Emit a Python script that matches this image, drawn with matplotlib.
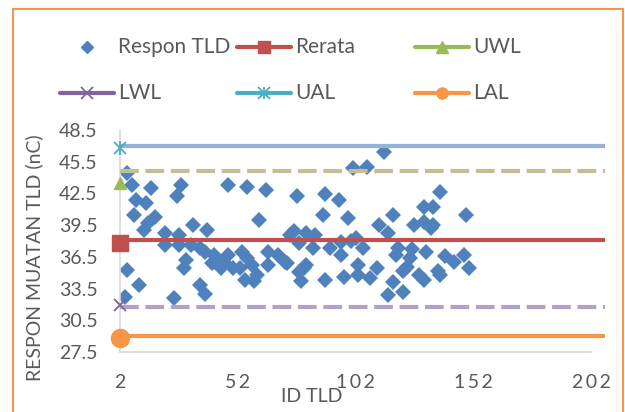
import matplotlib.pyplot as plt
from matplotlib.patches import Rectangle
from matplotlib.lines import Line2D

plt.rcParams['font.family'] = ['Lato', 'DejaVu Sans']

# TLD readings (ID, response in nC)
tld_id = [4, 5, 5, 7, 8, 9, 10, 12, 13, 14, 15, 17, 21, 21, 25, 26, 27, 27, 28, 29,
          30, 32, 33, 36, 36, 38, 38, 39, 41, 42, 43, 45, 46, 48, 48, 50, 53, 54, 55, 56,
          56, 58, 59, 60, 61, 64, 65, 65, 69, 72, 73, 74, 76, 77, 78, 78, 79, 80, 81, 81,
          84, 85, 88, 89, 89, 91, 95, 96, 96, 97, 99, 100, 101, 102, 103, 103, 105, 107, 108, 111,
          112, 114, 116, 116, 118, 118, 119, 120, 122, 122, 124, 125, 126, 127, 129, 131, 131, 131, 132, 134,
          135, 135, 137, 138, 138, 140, 144, 148, 149, 150]
respon = [32.7, 44.4, 35.3, 43.3, 40.5, 41.9, 33.8, 39.0, 41.6, 39.7, 43.0, 40.3, 38.8, 37.6, 32.6, 42.3, 38.6, 37.6, 43.3, 35.4,
          36.2, 37.6, 39.5, 37.3, 33.8, 33.0, 37.0, 39.0, 35.9, 36.7, 36.2, 35.4, 36.0, 43.3, 36.7, 35.4, 35.4, 37.0, 34.3, 43.1,
          36.4, 35.7, 34.2, 34.8, 40.0, 42.8, 37.0, 35.7, 36.7, 36.0, 35.9, 38.6, 38.9, 42.3, 35.1, 37.8, 34.2, 35.4, 38.8, 35.7,
          37.3, 38.6, 40.5, 42.4, 34.3, 37.3, 41.9, 37.9, 36.7, 34.6, 40.2, 38.0, 44.9, 38.3, 35.7, 34.8, 37.3, 45.0, 34.5, 35.4,
          39.5, 46.4, 32.9, 38.8, 40.5, 34.1, 36.7, 37.3, 33.2, 35.2, 35.5, 36.4, 37.2, 39.5, 34.8, 41.2, 39.8, 34.3, 37.0, 39.2,
          41.2, 39.5, 35.2, 42.6, 34.8, 36.6, 36.0, 36.7, 40.5, 35.4]

# control lines
line_x = [2, 208]
rerata = 38.1
uwl = 44.6
lwl = 31.75
ual = 47.0
lal = 29.0

# single marker points at ID 2
point_x = 2
rerata_pt = 37.8
uwl_pt = 43.5
lwl_pt = 31.9
ual_pt = 46.8
lal_pt = 28.8

x_ticks = [2, 52, 102, 152, 202]
x_tick_labels = ['2', '5\u20092', '1\u20090\u20092', '1\u20095\u20092', '2\u20090\u20092']
y_ticks = [27.5, 30.5, 33.5, 36.5, 39.5, 42.5, 45.5, 48.5]

txt = '#595959'
W, H = 625, 412

fig = plt.figure(figsize=(W / 100, H / 100), dpi=100)
ax = fig.add_axes([120 / W, 1 - 352 / H, 471 / W, 222 / H])

ax.plot(tld_id, respon, ls='none', marker='D', ms=8.5, mew=0, color='#4f81bd', zorder=2)

ax.plot(line_x, [ual, ual], color='#95b3d7', lw=3, solid_capstyle='butt', clip_on=False, zorder=3)
ax.plot(line_x, [uwl, uwl], color='#c4bd97', lw=3, ls=(0, (4.5, 1.6)), clip_on=False, zorder=3)
ax.plot(line_x, [rerata, rerata], color='#c0504d', lw=3, solid_capstyle='butt', clip_on=False, zorder=3)
ax.plot(line_x, [lwl, lwl], color='#b3a2c7', lw=3, ls=(0, (4.5, 1.6)), clip_on=False, zorder=3)
ax.plot(line_x, [lal, lal], color='#f79646', lw=3, solid_capstyle='butt', clip_on=False, zorder=3)

ax.plot(point_x, ual_pt, marker='x', ms=9, mew=1.3, color='#4bacc6', clip_on=False, zorder=4)
ax.plot(point_x, ual_pt, marker='|', ms=10, mew=1.3, color='#4bacc6', clip_on=False, zorder=4)
ax.plot(point_x, uwl_pt, marker='^', ms=9, color='#9bbb59', clip_on=False, zorder=4)
ax.plot(point_x, rerata_pt, marker='s', ms=12, color='#c0504d', clip_on=False, zorder=4)
ax.plot(point_x, lwl_pt, marker='x', ms=9, mew=1.3, color='#8064a2', clip_on=False, zorder=4)
ax.plot(point_x, lal_pt, marker='o', ms=13, color='#f79646', clip_on=False, zorder=4)

ax.set_xlim(2, 202)
ax.set_ylim(27.5, 48.5)
ax.set_xticks(x_ticks)
ax.set_xticklabels(x_tick_labels)
ax.set_yticks(y_ticks)
ax.set_yticklabels([f'{v:.1f}' for v in y_ticks])
ax.tick_params(length=0, labelsize=14, labelcolor=txt)
ax.tick_params(axis='y', pad=16)
ax.tick_params(axis='x', pad=16)
for s in ['top', 'right']:
    ax.spines[s].set_visible(False)
for s in ['left', 'bottom']:
    ax.spines[s].set_color('#d9d9d9')
    ax.spines[s].set_linewidth(1.2)

fig.text(34 / W, 1 - 258 / H, 'RESPON MUATAN TLD (nC)', rotation=90, ha='center', va='center',
         fontsize=14, color=txt)
fig.text(312 / W, 1 - 396 / H, 'ID TLD', ha='center', va='center', fontsize=14, color=txt)

# chart border
fig.patches.append(Rectangle((13 / W, -0.1), 610 / W, 1.1 - 9 / H, transform=fig.transFigure,
                             fill=False, edgecolor='#f79646', lw=1.5))

# legend drawn in pixel coordinates
lg = fig.add_axes([0, 0, 1, 1])
lg.set_xlim(0, W)
lg.set_ylim(H, 0)
lg.axis('off')
entries = [
    ('Respon TLD', None, 'D', '#4f81bd', 60, 47),
    ('Rerata', '#c0504d', 's', '#c0504d', 237, 47),
    ('UWL', '#9bbb59', '^', '#9bbb59', 415, 47),
    ('LWL', '#8064a2', 'x', '#8064a2', 60, 93),
    ('UAL', '#4bacc6', '*', '#4bacc6', 237, 93),
    ('LAL', '#f79646', 'o', '#f79646', 415, 93),
]
for label, lc, mk, mc, x0, y0 in entries:
    if lc:
        lg.add_line(Line2D([x0, x0 + 54], [y0, y0], color=lc, lw=3, solid_capstyle='round'))
    xm = x0 + 27
    if mk == '*':
        lg.plot(xm, y0, marker='x', ms=8, mew=1.3, color=mc)
        lg.plot(xm, y0, marker='|', ms=9, mew=1.3, color=mc)
    elif mk == 'x':
        lg.plot(xm, y0, marker='x', ms=8, mew=1.3, color=mc)
    else:
        lg.plot(xm, y0, marker=mk, ms={'D': 6.5, 's': 8, '^': 8, 'o': 8}[mk], color=mc)
    lg.text(x0 + 58, y0, label, ha='left', va='center', fontsize=15, color=txt)

fig.savefig('out.png', dpi=100)
